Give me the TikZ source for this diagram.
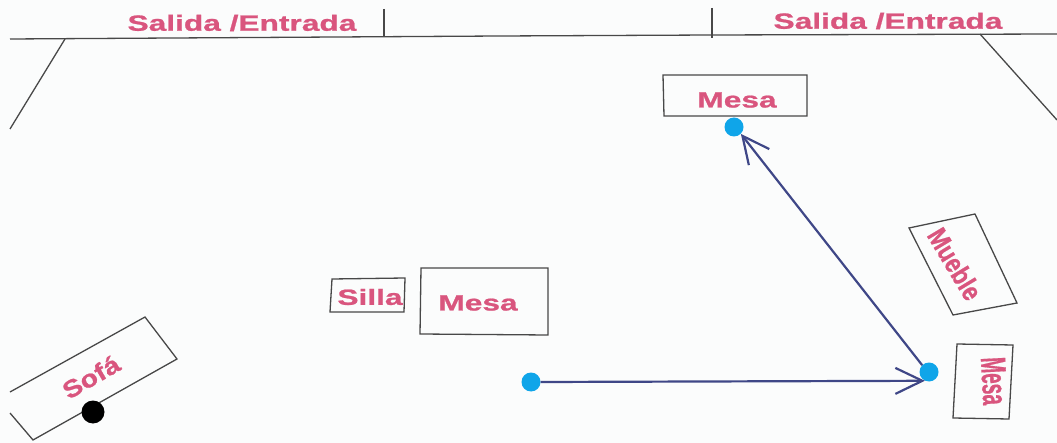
\documentclass[tikz,border=0pt]{standalone}
\usepackage{fontspec}
\newfontfamily\planfont[FakeStretch=1.44,FakeBold=1]{Liberation Sans}
\usetikzlibrary{arrows.meta}
\definecolor{paper}{HTML}{FBFCFC}
\definecolor{pencil}{HTML}{484848}
\definecolor{labelpink}{HTML}{D9557E}
\definecolor{route}{HTML}{3F4787}
\definecolor{stop}{HTML}{0FA5E9}
\tikzset{
  wall/.style={draw=pencil, line width=1.3pt},
  furniture/.style={text=labelpink, inner sep=0pt, font=\planfont\bfseries\fontsize{22}{22}\selectfont},
  stopdot/.style={circle, fill=stop, inner sep=0pt, minimum size=19pt},
  routearrow/.style={draw=route, line width=2.2pt, -{Straight Barb[length=27pt,width=26pt,line width=2.2pt]}}
}
\begin{document}
\begin{tikzpicture}[x=1pt,y=-1pt]
      \fill[paper] (0,0) rectangle (1057,443);
      \useasboundingbox (0,0) rectangle (1057,443);
      % walls
      \draw[wall] (10,39) -- (500,36) -- (712,35) -- (1057,34);
      \draw[wall] (65,39) -- (10,129);
      \draw[wall] (980,34) -- (1057,120);
      \draw[wall] (384,9) -- (384,37);
      \draw[wall] (712,8) -- (712,38);
      % furniture
      \draw[wall] (663,75) -- (807,75) -- (807,116) -- (664,116) -- cycle;
      \draw[wall] (332,279) -- (405,278) -- (404,312) -- (330,312) -- cycle;
      \draw[wall] (421,268) -- (548,268) -- (548,335) -- (420,334) -- cycle;
      \draw[wall] (909,228) -- (975,214) -- (1017,303) -- (953,315) -- cycle;
      \draw[wall] (957,344) -- (1013,345) -- (1009,419) -- (953,418) -- cycle;
      \draw[wall] (10,392) -- (145,317) -- (177,359) -- (33,440) -- (10,413);
      \draw
        (242,23) node[furniture] (door1){Salida /Entrada}
        (888,21) node[furniture] (door2){Salida /Entrada}
        (737,100) node[furniture] (mesa1){Mesa}
        (370,297) node[furniture] (silla){Silla}
        (478,303) node[furniture] (mesa2){Mesa}
        (91,377) node[furniture,rotate=30] (sofa){\scalebox{.9}[1.1]{Sofá}}
        (955,264) node[furniture,rotate=-59] (mueble){\scalebox{.72}[1.25]{Mueble}}
        (994,381) node[furniture,rotate=-87] (mesa3){\scalebox{.6}[1.6]{Mesa}};
      \node[circle, fill=black, inner sep=0pt, minimum size=23pt] (person) at (93,412) {};
      \node[stopdot] (start) at (531,382) {};
      \node[stopdot] (turn) at (929,372) {};
      \node[stopdot] (goal) at (734,127) {};
      \begin{scope}[routearrow]
        \draw[routearrow] (start.east) to (turn.-115);
        \draw[routearrow] (turn.north west) to (goal.south east);
      \end{scope}
    \end{tikzpicture}
\end{document}
